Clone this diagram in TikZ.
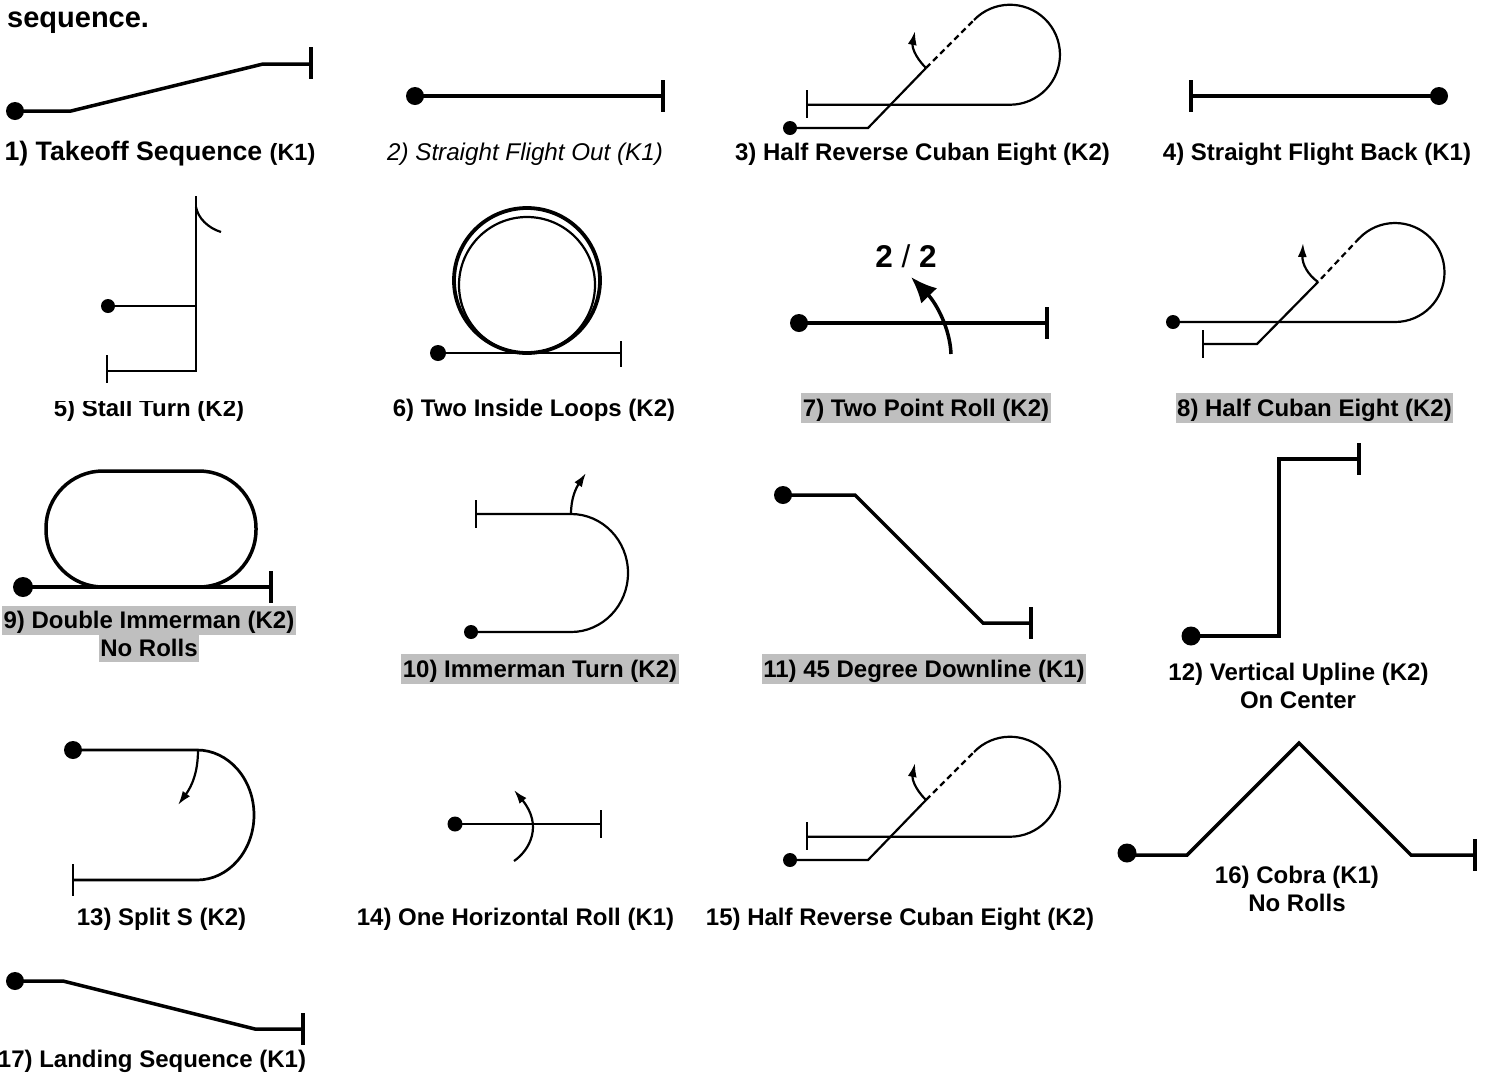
\documentclass[tikz,border=0pt]{standalone}
\usepackage{fontspec}
\setmainfont{Liberation Sans}
\usepackage{xcolor}
\usetikzlibrary{arrows.meta}
\definecolor{LabelGray}{HTML}{BFBFBF}
\tikzset{
  thinpath/.style={line width=2.2pt, line join=miter},
  thickpath/.style={line width=3.5pt, line join=miter},
  rollarrow/.style={line width=2.2pt, -{Latex[length=14pt,width=9pt]}},
  startdot/.style={circle, fill=black, inner sep=0pt, minimum size=#1},
  caption/.style={inner sep=0pt, align=center, text height=21pt, text depth=5pt,
                  font=\fontsize{24}{28}\selectfont\bfseries},
  shaded/.style={caption, fill=LabelGray, inner xsep=1.5pt, text height=23pt, text depth=7pt},
  cubanfig/.pic={
    \node[startdot=14pt] (dot) at (790,-128) {};
    \draw[thinpath] (dot.center) -- (868,-128) -- (926,-68);
    \draw[thinpath, dash pattern=on 6pt off 4pt] (926,-68) -- (974,-20);
    \draw[thinpath] (974,-20) arc[start angle=136, end angle=-90, radius=50] -- (807,-104.7);
    \draw[thinpath] (807,-90) -- (807,-118);
    \draw[rollarrow] (926,-68) .. controls (914,-56) and (912,-46) .. (915,-31);
  }
}
\begin{document}
\begin{tikzpicture}[x=1pt, y=1pt]
  \useasboundingbox (0,0) rectangle (1489,-1072);

  \node[caption, anchor=west, font=\fontsize{29}{32}\selectfont\bfseries] (intro) at (7,-19) {sequence.};

  \node[startdot=18pt] (dotA) at (15,-111) {};
  \draw[thickpath] (dotA.center) -- (71,-111) -- (263,-64) -- (311,-64);
  \draw[thickpath] (311,-47) -- (311,-79);
  \node[caption, font=\fontsize{26.7}{30}\selectfont\bfseries] (capA) at (160,-152) {1) Takeoff Sequence {\fontsize{23.5}{28}\selectfont (K1)}};

  \node[startdot=18pt] (dotB) at (415,-96) {};
  \draw[thickpath] (dotB.center) -- (663,-96);
  \draw[thickpath] (663,-80) -- (663,-112);
  \node[caption, font=\fontsize{24.2}{28}\selectfont\itshape] (capB) at (525,-152) {2) Straight Flight Out (K1)};

  \pic {cubanfig};
  \node[caption] (capC) at (922.5,-152) {3) Half Reverse Cuban Eight (K2)};

  \node[startdot=18pt] (dotD) at (1439,-96) {};
  \draw[thickpath] (dotD.center) -- (1191,-96);
  \draw[thickpath] (1191,-80) -- (1191,-112);
  \node[caption] (capD) at (1317,-152) {4) Straight Flight Back (K1)};

  \node[caption] (capE) at (149,-408) {5) Stall Turn (K2)};
  \fill[white] (50,-385) rectangle (250,-401);
  \node[startdot=14pt] (dotE) at (108,-306) {};
  \draw[thinpath] (dotE.center) -- (196,-306);
  \draw[thinpath] (196,-196) -- (196,-371) -- (107,-371);
  \draw[thinpath] (107,-355) -- (107,-383);
  \draw[thinpath] (196,-207) .. controls (198,-218) and (208,-228) .. (221,-232);

  \draw[line width=3.8pt] (527,-280.5) ellipse [x radius=73, y radius=72.5];
  \draw[thinpath] (527,-285) ellipse [x radius=68, y radius=68];
  \node[startdot=16pt] (dotF) at (438,-353) {};
  \draw[thinpath] (dotF.center) -- (621,-353);
  \draw[thinpath] (621,-341) -- (621,-367);
  \node[caption] (capF) at (534,-408) {6) Two Inside Loops (K2)};

  \node[startdot=18pt] (dotG) at (799,-323) {};
  \draw[thickpath] (dotG.center) -- (1047,-323);
  \draw[thickpath] (1047,-307) -- (1047,-339);
  \draw[line width=3.5pt, -{Latex[length=26pt,width=22pt]}] (951,-354) .. controls (950,-328) and (936,-303) .. (911,-277);
  \node[inner sep=0pt, font=\fontsize{31.5}{34}\selectfont] (rollG) at (906,-256) {\textbf{2} / \textbf{2}};
  \node[shaded] (capG) at (926,-408) {7) Two Point Roll (K2)};

  \node[startdot=14pt] (dotH) at (1173,-322) {};
  \draw[thinpath] (dotH.center) -- (1395,-322) arc[start angle=-90, end angle=136, radius=49.5];
  \draw[thinpath, dash pattern=on 6pt off 4pt] (1359.4,-238) -- (1318,-282);
  \draw[thinpath] (1318,-282) -- (1257,-344) -- (1203,-344);
  \draw[thinpath] (1203,-330) -- (1203,-358);
  \draw[rollarrow] (1318,-282) .. controls (1308,-275) and (1302,-264) .. (1303,-243);
  \node[shaded] (capH) at (1314.5,-408) {8) Half Cuban Eight (K2)};

  \draw[thickpath, rounded corners=57pt] (46,-587) rectangle (256,-471);
  \node[startdot=20pt] (dotI) at (23,-587) {};
  \draw[thickpath] (dotI.center) -- (271,-587);
  \draw[thickpath] (271,-571) -- (271,-603);
  \node[shaded, text height=22pt] (capI) at (149,-620.5) {9) Double Immerman (K2)};
  \node[shaded, text height=21pt, text depth=6pt] (capIb) at (149,-648.5) {No Rolls};

  \node[startdot=14pt] (dotJ) at (471,-632) {};
  \draw[thinpath] (dotJ.center) -- (571,-632) arc[start angle=-90, end angle=90, x radius=57, y radius=59] -- (476,-514);
  \draw[thinpath] (476,-500) -- (476,-528);
  \draw[rollarrow] (571,-514) .. controls (571,-498) and (576,-488) .. (586,-473);
  \node[shaded] (capJ) at (540,-669) {10) Immerman Turn (K2)};

  \node[startdot=18pt] (dotK) at (783,-495) {};
  \draw[thickpath] (dotK.center) -- (855,-495) -- (983,-623) -- (1031,-623);
  \draw[thickpath] (1031,-607) -- (1031,-639);
  \node[shaded] (capK) at (924,-669) {11) 45 Degree Downline (K1)};

  \node[startdot=19pt] (dotL) at (1191,-636) {};
  \draw[thickpath] (dotL.center) -- (1279,-636) -- (1279,-459) -- (1359,-459);
  \draw[thickpath] (1359,-443) -- (1359,-475);
  \node[caption] (capL) at (1298.5,-672) {12) Vertical Upline (K2)};
  \node[caption] (capLb) at (1298,-700) {On Center};

  \node[startdot=18pt] (dotM) at (73,-750) {};
  \draw[thinpath, line width=2.7pt] (dotM.center) -- (197,-750) arc[start angle=90, end angle=-90, x radius=57, y radius=65] -- (73,-880);
  \draw[thinpath, line width=2.7pt] (73,-864) -- (73,-896);
  \draw[rollarrow] (198,-750) .. controls (198,-772) and (192,-786) .. (178,-805);
  \node[caption] (capM) at (161.5,-917) {13) Split S (K2)};

  \node[startdot=15pt] (dotN) at (455,-824) {};
  \draw[thinpath] (dotN.center) -- (601,-824);
  \draw[thinpath] (601,-810) -- (601,-838);
  \draw[rollarrow] (514,-861) .. controls (530,-850) and (543,-825) .. (514,-790);
  \node[caption] (capN) at (515.5,-917) {14) One Horizontal Roll (K1)};

  \pic[yshift=-732pt] {cubanfig};
  \node[caption] (capO) at (900,-917) {15) Half Reverse Cuban Eight (K2)};

  \node[startdot=19pt] (dotP) at (1127,-853) {};
  \draw[thickpath] (1127,-855) -- (1187,-855) -- (1299,-743) -- (1411,-855) -- (1475,-855);
  \draw[thickpath] (1475,-839) -- (1475,-871);
  \node[caption] (capP) at (1297,-875) {16) Cobra (K1)};
  \node[caption] (capPb) at (1297,-903) {No Rolls};

  \node[startdot=18pt] (dotQ) at (15,-981) {};
  \draw[thickpath] (dotQ.center) -- (63,-981) -- (255,-1029) -- (303,-1029);
  \draw[thickpath] (303,-1013) -- (303,-1045);
  \node[caption] (capQ) at (152,-1059) {17) Landing Sequence (K1)};
\end{tikzpicture}
\end{document}
